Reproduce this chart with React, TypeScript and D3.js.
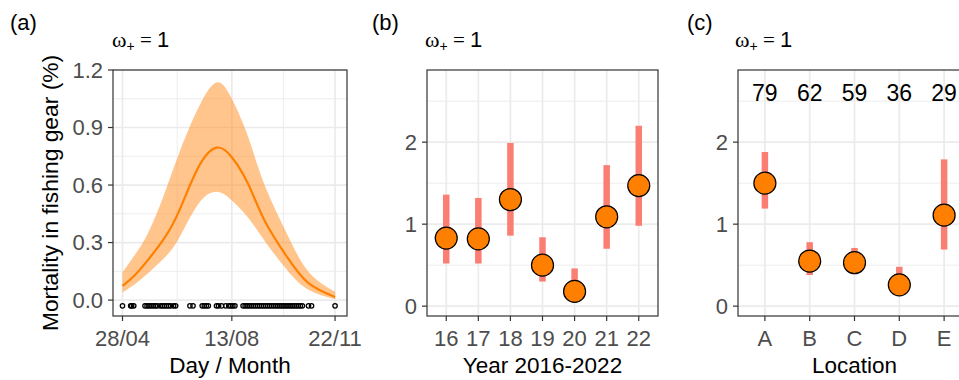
import React, { useEffect, useRef } from 'react';
import * as d3 from 'd3';

// panel (a): fitted seasonal curve (day of year)
const curveDays = [118, 130, 143, 158, 173, 192, 210, 225, 241, 257, 279, 300, 326];
const curveMean = [0.074, 0.13, 0.21, 0.315, 0.46, 0.69, 0.795, 0.745, 0.605, 0.415, 0.225, 0.088, 0.016];
const curveUpper = [0.145, 0.235, 0.35, 0.54, 0.76, 1.0, 1.135, 1.05, 0.85, 0.6, 0.345, 0.148, 0.044];
const curveLower = [0.04, 0.083, 0.14, 0.215, 0.32, 0.5, 0.565, 0.52, 0.43, 0.31, 0.157, 0.054, 0.005];

// observation days drawn as open circles under the curve
const obsDays = [118, 126, 127, 129, 140, 142, 144, 146, 148, 150, 152, 155, 157, 159, 161, 163, 165, 168, 170,
  184, 187, 196, 198, 200, 202, 210, 212, 215, 219, 222, 224, 226, 228, 236, 238, 240, 242, 244, 246, 248,
  250, 252, 254, 256, 258, 260, 262, 264, 266, 268, 270, 272, 274, 276, 278, 280, 282, 284, 286, 288, 290,
  292, 294, 300, 303, 326];

const dayTicks = [118, 225, 326];
const dayTickLabels = ['28/04', '13/08', '22/11'];
const mortTicks = [0, 0.3, 0.6, 0.9, 1.2];

// panel (b): by year
const years = ['16', '17', '18', '19', '20', '21', '22'];
const yearMean = [0.83, 0.82, 1.3, 0.5, 0.18, 1.09, 1.47];
const yearLower = [0.52, 0.52, 0.86, 0.3, 0.1, 0.7, 0.98];
const yearUpper = [1.36, 1.32, 1.99, 0.84, 0.46, 1.72, 2.2];

// panel (c): by location
const locations = ['A', 'B', 'C', 'D', 'E'];
const locMean = [1.5, 0.55, 0.53, 0.26, 1.11];
const locLower = [1.19, 0.38, 0.45, 0.2, 0.69];
const locUpper = [1.88, 0.78, 0.71, 0.48, 1.79];
const locCounts = ['79', '62', '59', '36', '29'];

const rateTicks = [0, 1, 2];

const SANS = 'Liberation Sans, Arial, sans-serif';
const SERIF = 'Liberation Serif, DejaVu Serif, serif';
const TICK_COL = '#4D4D4D';
const GRID_COL = '#EBEBEB';

const App: React.FC = () => {
  const svgRef = useRef<SVGSVGElement>(null);

  useEffect(() => {
    if (!svgRef.current) return;
    const svg = d3.select(svgRef.current);
    svg.selectAll('*').remove();

    const top = 70;
    const bottom = 316;

    function header(g: d3.Selection<SVGGElement, unknown, null, undefined>, tag: string, tx: number, wx: number) {
      g.append('text')
        .attr('x', tx).attr('y', 30)
        .attr('font-family', SANS).attr('font-size', 22).attr('fill', '#000')
        .text(tag);
      const t = g.append('text')
        .attr('x', wx).attr('y', 47)
        .attr('fill', '#000');
      t.append('tspan').attr('font-family', SERIF).attr('font-size', 22).text('ω');
      t.append('tspan').attr('font-family', SANS).attr('font-size', 14).attr('dy', 4).text('+');
      t.append('tspan').attr('font-family', SERIF).attr('font-size', 21).attr('dy', -4).text(' = ');
      t.append('tspan').attr('font-family', SANS).attr('font-size', 22).text('1');
    }

    function hGrid(g: any, y: d3.ScaleLinear<number, number>, vals: number[], x0: number, x1: number, w: number) {
      vals.forEach(v => {
        g.append('line')
          .attr('x1', x0).attr('x2', x1)
          .attr('y1', y(v)).attr('y2', y(v))
          .attr('stroke', GRID_COL).attr('stroke-width', w);
      });
    }

    function vGrid(g: any, xs: number[], w: number) {
      xs.forEach(xv => {
        g.append('line')
          .attr('x1', xv).attr('x2', xv)
          .attr('y1', top).attr('y2', bottom)
          .attr('stroke', GRID_COL).attr('stroke-width', w);
      });
    }

    function frame(g: any, x0: number, x1: number) {
      g.append('rect')
        .attr('x', x0).attr('y', top)
        .attr('width', x1 - x0).attr('height', bottom - top)
        .attr('fill', 'none').attr('stroke', '#333333').attr('stroke-width', 1.2);
    }

    function yAxis(g: any, y: d3.ScaleLinear<number, number>, vals: number[], labels: string[], x0: number) {
      vals.forEach((v, i) => {
        g.append('line')
          .attr('x1', x0 - 5).attr('x2', x0)
          .attr('y1', y(v)).attr('y2', y(v))
          .attr('stroke', '#333333').attr('stroke-width', 1.2);
        g.append('text')
          .attr('x', x0 - 10).attr('y', y(v))
          .attr('dy', '0.36em')
          .attr('text-anchor', 'end')
          .attr('font-family', SANS).attr('font-size', 22).attr('fill', TICK_COL)
          .text(labels[i]);
      });
    }

    function xAxis(g: any, xs: number[], labels: string[]) {
      xs.forEach((xv, i) => {
        g.append('line')
          .attr('x1', xv).attr('x2', xv)
          .attr('y1', bottom).attr('y2', bottom + 5)
          .attr('stroke', '#333333').attr('stroke-width', 1.2);
        g.append('text')
          .attr('x', xv).attr('y', 346)
          .attr('text-anchor', 'middle')
          .attr('font-family', SANS).attr('font-size', 22).attr('fill', TICK_COL)
          .text(labels[i]);
      });
    }

    function xTitle(g: any, cx: number, label: string) {
      g.append('text')
        .attr('x', cx).attr('y', 373)
        .attr('text-anchor', 'middle')
        .attr('font-family', SANS).attr('font-size', 22.5).attr('fill', '#000')
        .text(label);
    }

    // ---------- panel (a) ----------
    const ga = svg.append('g');
    const aLeft = 113, aRight = 347;
    const xa = d3.scaleLinear().domain([108.7, 337.7]).range([aLeft, aRight]);
    const ya = d3.scaleLinear().domain([-0.083, 1.2]).range([bottom, top]);

    header(ga, '(a)', 10, 112);
    hGrid(ga, ya, [0.15, 0.45, 0.75, 1.05], aLeft, aRight, 0.9);
    vGrid(ga, [(dayTicks[0] + dayTicks[1]) / 2, (dayTicks[1] + dayTicks[2]) / 2].map(d => xa(d)), 0.9);
    hGrid(ga, ya, mortTicks, aLeft, aRight, 1.7);
    vGrid(ga, dayTicks.map(d => xa(d)), 1.7);

    const idx = d3.range(curveDays.length);
    const band = d3.area<number>()
      .x(i => xa(curveDays[i]))
      .y0(i => ya(curveLower[i]))
      .y1(i => ya(curveUpper[i]))
      .curve(d3.curveNatural);
    ga.append('path')
      .datum(idx)
      .attr('d', band)
      .attr('fill', '#FF8C1A')
      .attr('fill-opacity', 0.5);

    const meanLine = d3.line<number>()
      .x(i => xa(curveDays[i]))
      .y(i => ya(curveMean[i]))
      .curve(d3.curveNatural);
    ga.append('path')
      .datum(idx)
      .attr('d', meanLine)
      .attr('fill', 'none')
      .attr('stroke', '#FF7F00')
      .attr('stroke-width', 2.2);

    obsDays.forEach(d => {
      ga.append('circle')
        .attr('cx', xa(d)).attr('cy', ya(-0.03))
        .attr('r', 2.2)
        .attr('fill', 'none')
        .attr('stroke', '#000')
        .attr('stroke-width', 1.3);
    });

    frame(ga, aLeft, aRight);
    yAxis(ga, ya, mortTicks, mortTicks.map(v => v.toFixed(1)), aLeft);
    xAxis(ga, dayTicks.map(d => xa(d)), dayTickLabels);
    xTitle(ga, (aLeft + aRight) / 2, 'Day / Month');

    ga.append('text')
      .attr('transform', `translate(58,${(top + bottom) / 2}) rotate(-90)`)
      .attr('text-anchor', 'middle')
      .attr('font-family', SANS).attr('font-size', 22.8).attr('fill', '#000')
      .text('Mortality in fishing gear (%)');

    // ---------- dot + interval panels ----------
    function dotPanel(tag: string, tagX: number, wX: number, x0: number, x1: number,
      cats: string[], mean: number[], lower: number[], upper: number[], title: string, counts?: string[]) {
      const g = svg.append('g');
      const x = d3.scalePoint<string>().domain(cats).range([x0, x1]).padding(0.6);
      const y = d3.scaleLinear().domain([-0.12, 2.88]).range([bottom, top]);

      header(g, tag, tagX, wX);
      hGrid(g, y, [0.5, 1.5, 2.5], x0, x1, 0.9);
      hGrid(g, y, rateTicks, x0, x1, 1.7);
      vGrid(g, cats.map(c => x(c) as number), 1.7);

      cats.forEach((c, i) => {
        g.append('line')
          .attr('x1', x(c) as number).attr('x2', x(c) as number)
          .attr('y1', y(lower[i])).attr('y2', y(upper[i]))
          .attr('stroke', '#FA7F72')
          .attr('stroke-width', 6.5);
      });
      cats.forEach((c, i) => {
        g.append('circle')
          .attr('cx', x(c) as number).attr('cy', y(mean[i]))
          .attr('r', 11)
          .attr('fill', '#FF7F00')
          .attr('stroke', '#000')
          .attr('stroke-width', 1.2);
      });

      if (counts) {
        cats.forEach((c, i) => {
          g.append('text')
            .attr('x', x(c) as number).attr('y', y(2.5))
            .attr('text-anchor', 'middle')
            .attr('font-family', SANS).attr('font-size', 23).attr('fill', '#000')
            .text(counts[i]);
        });
      }

      frame(g, x0, x1);
      yAxis(g, y, rateTicks, rateTicks.map(String), x0);
      xAxis(g, cats.map(c => x(c) as number), cats);
      xTitle(g, (x0 + x1) / 2, title);
    }

    dotPanel('(b)', 372, 425, 427, 658, years, yearMean, yearLower, yearUpper, 'Year 2016-2022');
    dotPanel('(c)', 687, 735, 738, 971, locations, locMean, locLower, locUpper, 'Location', locCounts);
  }, []);

  return (
    <svg
      ref={svgRef}
      width={959}
      height={380}
      style={{ position: 'absolute', left: 0, top: 0, background: '#fff' }}
    />
  );
};

export default App;
